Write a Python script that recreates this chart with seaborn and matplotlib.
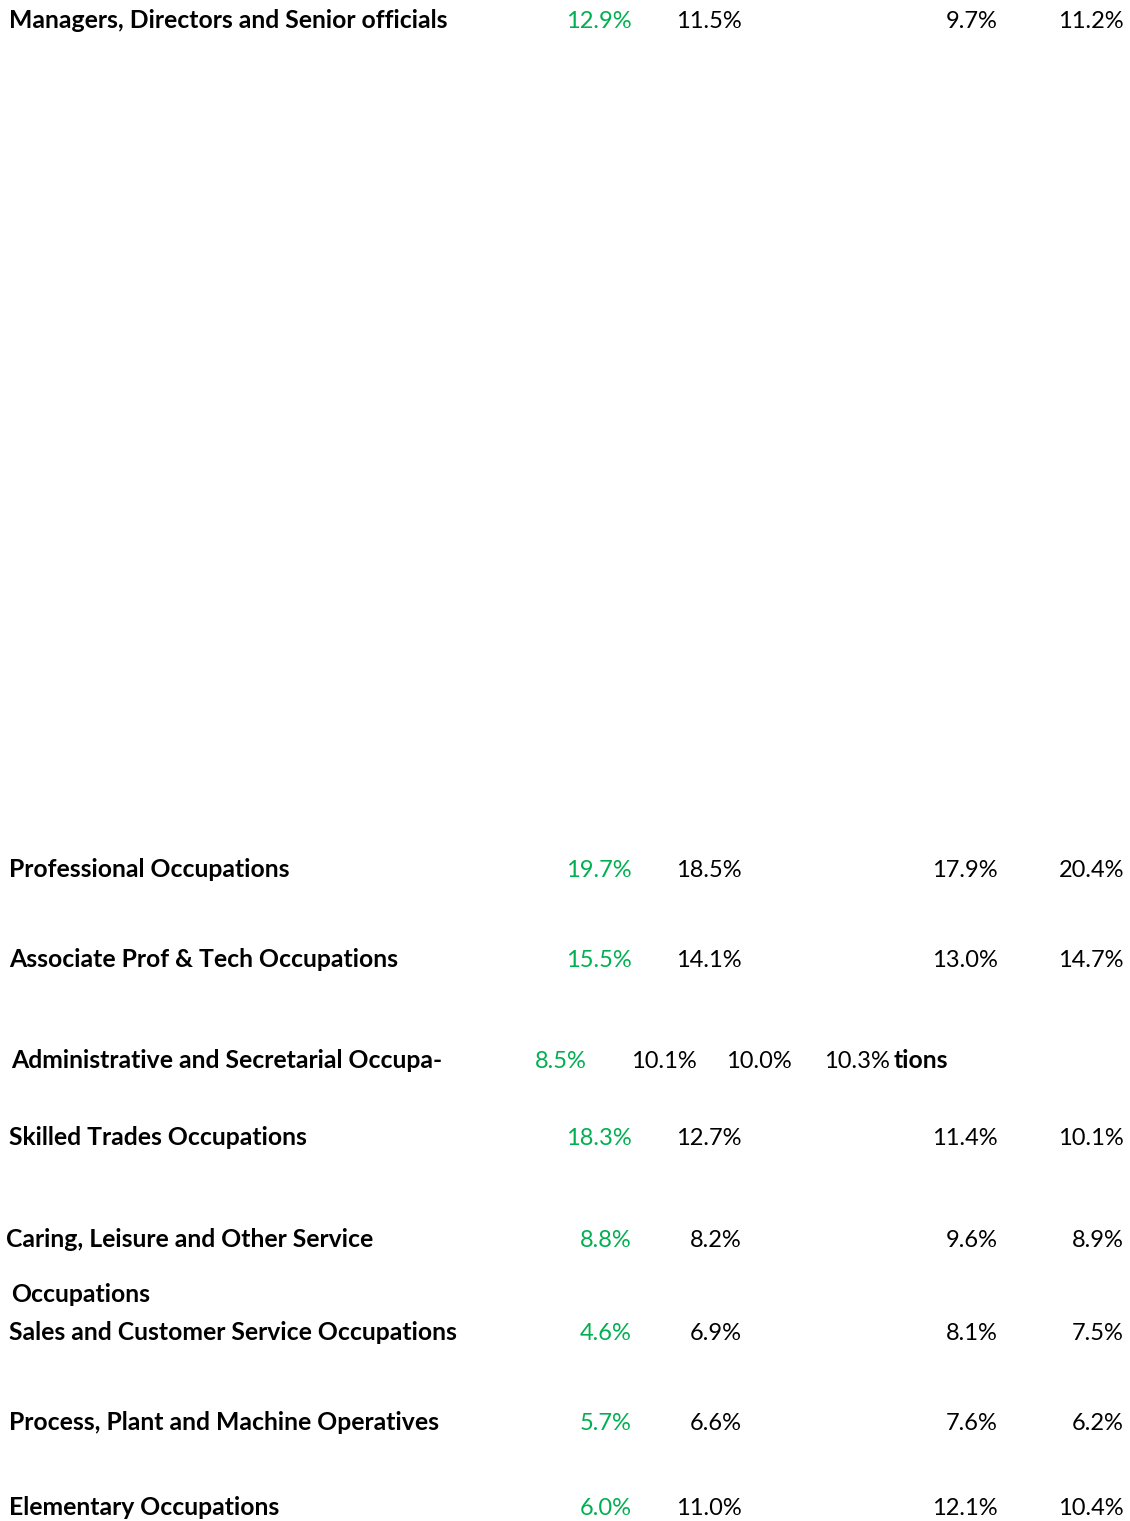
import matplotlib.pyplot as plt
import seaborn as sns
import pandas as pd

# Occupation shares (%)
occupations = [
    'Managers, Directors and Senior officials',
    'Professional Occupations',
    'Associate Prof & Tech Occupations',
    'Administrative and Secretarial Occupations',
    'Skilled Trades Occupations',
    'Caring, Leisure and Other Service Occupations',
    'Sales and Customer Service Occupations',
    'Process, Plant and Machine Operatives',
    'Elementary Occupations',
]
share_1 = [12.9, 19.7, 15.5, 8.5, 18.3, 8.8, 4.6, 5.7, 6.0]
share_2 = [11.5, 18.5, 14.1, 10.1, 12.7, 8.2, 6.9, 6.6, 11.0]
share_3 = [9.7, 17.9, 13.0, 10.0, 11.4, 9.6, 8.1, 7.6, 12.1]
share_4 = [11.2, 20.4, 14.7, 10.3, 10.1, 8.9, 7.5, 6.2, 10.4]

df = pd.DataFrame({'occupation': occupations, 's1': share_1, 's2': share_2,
                   's3': share_3, 's4': share_4})

# layout (pixel positions on the page)
row_base = [28, 877, 967, 1068, 1145, 1247, 1340, 1430, 1515]
col_right = [632, 742, 998, 1124]
admin_right = [587, 697, 792, 890]
green = '#00B050'

sns.set_theme(style='white')
plt.rcParams['font.family'] = ['Lato', 'DejaVu Sans']

fig = plt.figure(figsize=(11.3, 15.21), dpi=100)
ax = fig.add_axes([0, 0, 1, 1])
ax.set_xlim(0, 1130)
ax.set_ylim(1521, 0)
ax.axis('off')

fs = 17       # values
fs_lab = 17.8  # bold row labels
for i, row in df.iterrows():
    y = row_base[i]
    name = row['occupation']
    label_x = 9
    if name.startswith('Administrative'):
        name = 'Administrative and Secretarial Occupa-'
        label_x = 11
    elif name.startswith('Caring'):
        name = 'Caring, Leisure and Other Service'
        label_x = 6
        ax.text(11, 1302, 'Occupations', fontsize=fs_lab, fontweight='bold',
                color='black', va='baseline', ha='left')
    ax.text(label_x, y, name, fontsize=fs_lab, fontweight='bold', color='black',
            va='baseline', ha='left')
    cols = admin_right if i == 3 else col_right
    for j, key in enumerate(['s1', 's2', 's3', 's4']):
        ax.text(cols[j], y, f"{row[key]:.1f}%", fontsize=fs,
                color=green if j == 0 else 'black', va='baseline', ha='right')
    if i == 3:
        ax.text(894, y, 'tions', fontsize=fs_lab, fontweight='bold',
                color='black', va='baseline', ha='left')

fig.savefig('out.png', dpi=100, facecolor='white')
